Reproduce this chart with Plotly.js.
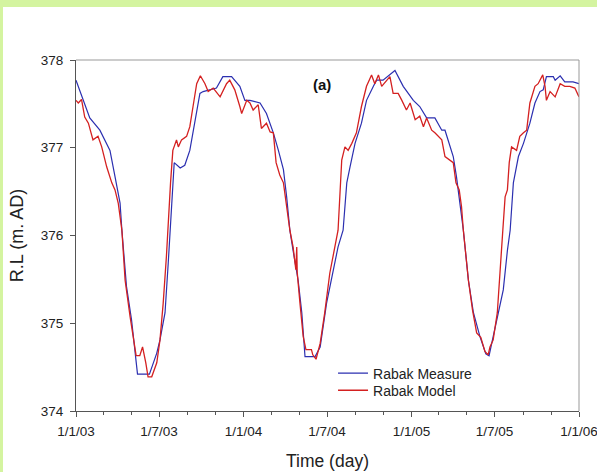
<!DOCTYPE html>
<html>
<head>
<meta charset="utf-8">
<script src="https://cdn.plot.ly/plotly-3.0.1.min.js"></script>
<style>
  html, body { margin: 0; padding: 0; background: #d4f4a0; width: 597px; height: 472px; overflow: hidden; }
  #chart { position: absolute; left: 3px; top: 7px; width: 594px; height: 465px; background: #fff; }
</style>
</head>
<body>
<div id="chart"></div>
<script>
// Rabak Measure (blue)
const measureDates = [
  '2003-01-01','2003-01-31','2003-02-22','2003-03-16','2003-03-27','2003-04-07','2003-04-11','2003-04-21',
  '2003-05-02','2003-05-10','2003-05-15','2003-06-10','2003-06-26','2003-07-03','2003-07-14','2003-07-21',
  '2003-07-25','2003-07-31','2003-08-03','2003-08-16','2003-08-26','2003-09-06','2003-09-17','2003-09-28',
  '2003-10-05','2003-11-03','2003-11-17','2003-12-06','2003-12-24','2004-01-04','2004-01-15','2004-02-06',
  '2004-02-20','2004-03-06','2004-03-17','2004-03-28','2004-04-04','2004-04-11','2004-04-18','2004-04-29',
  '2004-05-07','2004-05-14','2004-06-05','2004-06-16','2004-06-30','2004-07-15','2004-07-25','2004-08-05',
  '2004-08-13','2004-08-20','2004-08-31','2004-09-14','2004-09-25','2004-10-10','2004-10-17','2004-10-31',
  '2004-11-15','2004-11-26','2004-12-14','2005-01-05','2005-01-19','2005-02-03','2005-02-21','2005-03-08',
  '2005-03-15','2005-03-26','2005-04-02','2005-04-09','2005-04-17','2005-04-24','2005-05-05','2005-05-16',
  '2005-05-30','2005-06-06','2005-06-12','2005-06-19','2005-06-25','2005-07-09','2005-07-20','2005-07-29',
  '2005-08-04','2005-08-11','2005-08-22','2005-09-02','2005-09-16','2005-09-27','2005-10-08','2005-10-15',
  '2005-10-22','2005-11-06','2005-11-10','2005-11-21','2005-12-01','2005-12-19','2006-01-01'
];
const measureValues = [
  377.77,377.34,377.20,376.97,376.67,376.37,376.06,375.42,
  375.04,374.70,374.42,374.42,374.66,374.81,375.12,375.69,
  376.06,376.60,376.83,376.77,376.80,376.97,377.28,377.62,
  377.64,377.68,377.81,377.81,377.70,377.54,377.54,377.51,
  377.39,377.17,376.97,376.75,376.44,376.06,375.83,375.49,
  375.12,374.62,374.62,374.73,375.23,375.61,375.87,376.06,
  376.60,376.78,377.05,377.28,377.54,377.70,377.77,377.77,
  377.83,377.88,377.70,377.54,377.47,377.34,377.34,377.20,
  377.20,377.01,376.90,376.67,376.37,376.06,375.49,375.12,
  374.85,374.73,374.65,374.63,374.77,375.12,375.38,375.83,
  376.06,376.60,376.90,377.05,377.28,377.51,377.64,377.66,
  377.81,377.81,377.77,377.82,377.75,377.75,377.73
];

// Rabak Model (red)
const modelDates = [
  '2003-01-01','2003-01-06','2003-01-13','2003-01-20','2003-01-28','2003-02-07','2003-02-18','2003-02-26',
  '2003-03-09','2003-03-20','2003-03-27','2003-04-03','2003-04-11','2003-04-18','2003-04-29','2003-05-07',
  '2003-05-12','2003-05-20','2003-05-26','2003-06-02','2003-06-07','2003-06-15','2003-06-26','2003-07-03',
  '2003-07-10','2003-07-17','2003-07-20','2003-07-26','2003-07-31','2003-08-08','2003-08-12','2003-08-19',
  '2003-08-30','2003-09-06','2003-09-13','2003-09-21','2003-09-29','2003-10-09','2003-10-16','2003-10-27',
  '2003-11-11','2003-11-25','2003-12-02','2003-12-13','2003-12-24','2003-12-28','2004-01-08','2004-01-15',
  '2004-01-22','2004-02-02','2004-02-09','2004-02-20','2004-02-28','2004-03-06','2004-03-12','2004-03-20',
  '2004-03-28','2004-04-04','2004-04-11','2004-04-18','2004-04-24','2004-04-26','2004-04-27','2004-05-03',
  '2004-05-10','2004-05-16','2004-05-28','2004-05-31','2004-06-07','2004-06-16','2004-06-26','2004-07-07',
  '2004-07-18','2004-07-25','2004-08-02','2004-08-09','2004-08-16','2004-08-24','2004-09-03','2004-09-14',
  '2004-09-25','2004-10-06','2004-10-13','2004-10-21','2004-10-28','2004-11-08','2004-11-15','2004-11-22',
  '2004-12-03','2004-12-11','2004-12-21','2004-12-29','2005-01-09','2005-01-19','2005-01-27','2005-02-03',
  '2005-02-14','2005-02-21','2005-03-01','2005-03-08','2005-03-15','2005-03-26','2005-04-02','2005-04-08',
  '2005-04-15','2005-04-20','2005-04-24','2005-05-05','2005-05-14','2005-05-23','2005-06-01','2005-06-10',
  '2005-06-17','2005-06-21','2005-06-28','2005-07-07','2005-07-14','2005-07-19','2005-07-24','2005-07-29',
  '2005-08-02','2005-08-07','2005-08-18','2005-08-25','2005-09-02','2005-09-09','2005-09-16','2005-09-27',
  '2005-10-04','2005-10-14','2005-10-19','2005-10-22','2005-10-30','2005-11-10','2005-11-21','2005-12-01',
  '2005-12-12','2005-12-23','2006-01-01'
];
const modelValues = [
  377.54,377.51,377.55,377.35,377.28,377.09,377.13,377.01,
  376.78,376.60,376.52,376.37,376.06,375.49,375.07,374.77,
  374.63,374.63,374.73,374.55,374.39,374.39,374.55,374.81,
  375.23,375.76,376.06,376.60,376.97,377.09,377.01,377.09,
  377.13,377.24,377.47,377.73,377.82,377.73,377.64,377.68,
  377.58,377.73,377.77,377.66,377.47,377.39,377.54,377.51,
  377.43,377.49,377.22,377.28,377.18,377.17,376.83,376.69,
  376.60,376.33,376.06,375.87,375.61,375.87,375.58,375.23,
  374.85,374.70,374.70,374.64,374.59,374.77,375.12,375.57,
  375.87,376.06,376.86,377.01,376.97,377.05,377.17,377.47,
  377.70,377.83,377.73,377.83,377.70,377.77,377.81,377.62,
  377.62,377.54,377.43,377.51,377.32,377.36,377.24,377.34,
  377.20,377.17,377.13,377.09,376.90,376.86,376.83,376.60,
  376.52,376.33,376.06,375.49,375.15,374.89,374.84,374.68,
  374.64,374.73,374.81,375.12,375.61,376.06,376.44,376.52,
  376.83,377.01,376.97,377.13,377.17,377.20,377.51,377.70,
  377.73,377.83,377.70,377.54,377.64,377.58,377.73,377.70,
  377.70,377.68,377.58
];

const seriesNames = ['Rabak Measure', 'Rabak Model'];
const xRange = ['2003-01-01', '2006-01-01'];
const yRange = [374, 378];

const font = 'Liberation Sans, Arial, sans-serif';

const traces = [
  { x: measureDates, y: measureValues, name: seriesNames[0], type: 'scatter', mode: 'lines',
    legend: 'legend', line: { color: '#2b2fb0', width: 1.2 } },
  { x: modelDates, y: modelValues, name: seriesNames[1], type: 'scatter', mode: 'lines',
    legend: 'legend2', line: { color: '#d42020', width: 1.3 } }
];

const legendFont = { family: font, size: 14, color: '#222' };

const layout = {
  width: 594, height: 465,
  margin: { l: 73, r: 18, t: 53, b: 61 },
  paper_bgcolor: '#ffffff', plot_bgcolor: '#ffffff',
  font: { family: font, color: '#222', size: 13.5 },
  showlegend: true,
  legend: { x: 0.511, y: 0.107, xanchor: 'left', yanchor: 'middle', bgcolor: 'rgba(0,0,0,0)', font: legendFont },
  legend2: { x: 0.511, y: 0.058, xanchor: 'left', yanchor: 'middle', bgcolor: 'rgba(0,0,0,0)', font: legendFont },
  xaxis: {
    type: 'date', range: xRange, dtick: 'M6', tick0: '2003-01-01', tickformat: '%-d/%-m/%y',
    showgrid: false, zeroline: false, showline: true, linecolor: '#555', linewidth: 1,
    ticks: 'outside', ticklen: 5, tickcolor: '#555', ticklabelstandoff: 3, ticklabeloverflow: 'allow',
    tickfont: { family: font, size: 13.5, color: '#222' },
    minor: { ticks: 'outside', ticklen: 3, dtick: 'M2', tick0: '2003-01-01', tickcolor: '#555', showgrid: false },
    title: { text: 'Time (day)', font: { family: font, size: 17.5, color: '#222' }, standoff: 16 }
  },
  yaxis: {
    range: yRange, dtick: 1, showgrid: false, zeroline: false, showline: true, linecolor: '#555', linewidth: 1,
    ticks: 'outside', ticklen: 5, tickcolor: '#555', ticklabelstandoff: 4,
    tickfont: { family: font, size: 13.5, color: '#222' },
    title: { text: 'R.L (m. AD)', font: { family: font, size: 18, color: '#222' }, standoff: 12 }
  },
  shapes: [
    { type: 'line', xref: 'paper', yref: 'paper', x0: 0, x1: 1, y0: 1, y1: 1, line: { color: '#999', width: 1 } },
    { type: 'line', xref: 'paper', yref: 'paper', x0: 1, x1: 1, y0: 0, y1: 1, line: { color: '#999', width: 1 } }
  ],
  annotations: [
    { text: '<b>(a)</b>', xref: 'paper', yref: 'paper', x: 0.489, y: 0.929, xanchor: 'center', yanchor: 'middle',
      showarrow: false, font: { family: font, size: 15, color: '#111' } }
  ]
};

Plotly.newPlot('chart', traces, layout, { displayModeBar: false, staticPlot: true });
</script>
</body>
</html>
